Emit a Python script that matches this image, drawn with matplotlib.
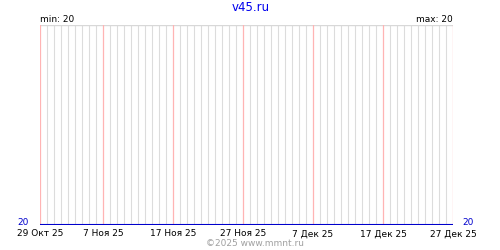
import matplotlib
matplotlib.use('Agg')
import matplotlib.pyplot as plt
import numpy as np
from datetime import datetime, timedelta

start = datetime(2025, 10, 29)
n_days = 60
days = [start + timedelta(days=i) for i in range(n_days)]

values = [20, 20, 20, 20, 20, 20, 20, 20, 20, 20,
          20, 20, 20, 20, 20, 20, 20, 20, 20, 20,
          20, 20, 20, 20, 20, 20, 20, 20, 20, 20,
          20, 20, 20, 20, 20, 20, 20, 20, 20, 20,
          20, 20, 20, 20, 20, 20, 20, 20, 20, 20,
          20, 20, 20, 20, 20, 20, 20, 20, 20, 20]

tick_idx = [0, 9, 19, 29, 39, 49, 59]
tick_labels = ['29 Окт 25', '7 Ноя 25', '17 Ноя 25', '27 Ноя 25',
               '7 Дек 25', '17 Дек 25', '27 Дек 25']

title = 'v45.ru'
vmin = min(values)
vmax = max(values)

plt.rcParams['font.family'] = ['DejaVu Sans']

fig = plt.figure(figsize=(5, 2.5), dpi=100)
ax = fig.add_axes([0.08, 0.1, 0.826, 0.8])

x = np.arange(n_days)
for i in x:
    if i in tick_idx:
        ax.axvline(i, color='#ffb4b4', lw=0.9, zorder=2, snap=True)
    else:
        ax.axvline(i, color='#dcdcdc', lw=0.8, zorder=1, snap=True)
ax.axhline(21, color='#d8d8d8', lw=1.0, zorder=1, snap=True)

ax.plot(x, values, color='#0000cc', lw=1.5, zorder=3, solid_capstyle='butt')

ax.set_xlim(0, n_days - 1)
ax.set_ylim(20, 21)
for s in ax.spines.values():
    s.set_visible(False)
ax.set_yticks([])
ax.set_xticks(tick_idx)
ax.set_xticklabels(tick_labels, fontsize=6.5)
ax.tick_params(axis='x', length=0, pad=3)

ax.annotate(str(vmin), (0, 20), xytext=(-8, 1.5), textcoords='offset points',
            color='#0000cc', fontsize=6.5, ha='right', va='center')
ax.annotate(str(vmax), (n_days - 1, 20), xytext=(7, 1.5), textcoords='offset points',
            color='#0000cc', fontsize=6.5, ha='left', va='center')

fig.text(0.08, 0.92, 'min: %d' % vmin, fontsize=6.5, ha='left', va='center')
fig.text(0.906, 0.92, 'max: %d' % vmax, fontsize=6.5, ha='right', va='center')
fig.text(0.502, 0.97, title, color='#0000ee', fontsize=8.5, ha='center', va='center')
fig.text(0.51, 0.026, '©2025 www.mmnt.ru', color='#a0a0a0', fontsize=6.5, ha='center', va='center')

fig.savefig('out.png', dpi=100)
